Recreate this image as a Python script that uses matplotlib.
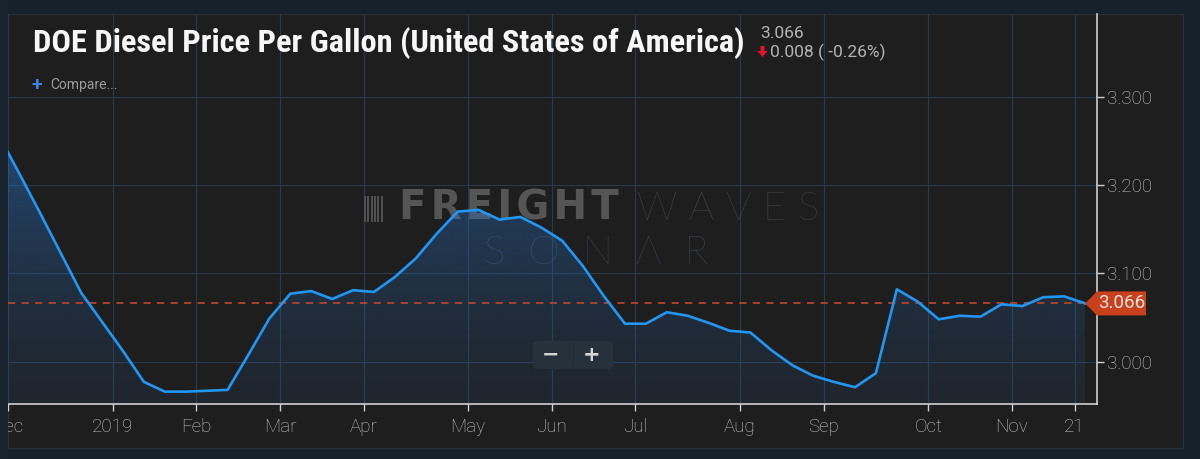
import numpy as np
import pandas as pd
import matplotlib
matplotlib.use("Agg")
import matplotlib.pyplot as plt
from matplotlib.patches import Rectangle, Polygon, FancyBboxPatch
from matplotlib.transforms import IdentityTransform
from matplotlib.colors import to_rgb

# weekly DOE diesel price (USD / gallon)
prices = [
    3.259, 3.215, 3.170, 3.124, 3.078, 3.045, 3.012, 2.977, 2.966, 2.966,
    2.967, 2.968, 3.008, 3.049, 3.077, 3.080, 3.071, 3.081, 3.079, 3.096,
    3.117, 3.145, 3.170, 3.172, 3.161, 3.164, 3.152, 3.137, 3.108, 3.074,
    3.043, 3.043, 3.056, 3.052, 3.044, 3.035, 3.033, 3.013, 2.996, 2.984,
    2.977, 2.971, 2.987, 3.082, 3.068, 3.048, 3.052, 3.051, 3.065, 3.063,
    3.073, 3.074, 3.066,
]
last_week = "2019-11-25"

tick_dates = [
    "2018-12-01", "2019-01-01", "2019-02-01", "2019-03-01", "2019-04-01",
    "2019-05-01", "2019-06-01", "2019-07-01", "2019-08-01", "2019-09-01",
    "2019-10-01", "2019-11-01", "2019-11-21",
]
tick_labels = ["Dec", "2019", "Feb", "Mar", "Apr", "May", "Jun", "Jul",
               "Aug", "Sep", "Oct", "Nov", "21"]
y_ticks = [3.0, 3.1, 3.2, 3.3]
y_range = (2.952, 3.394)

title = "DOE Diesel Price Per Gallon (United States of America)"
last_label = "3.066"
change_label = "0.008 ( -0.26%)"

W, H = 1200, 459
NAVY = "#16212c"
PANEL = "#1e1e1e"
LINE = "#2196f3"
AXIS = "#cfcfcf"
TXT = "#c4c4c4"
SANS = ["Roboto", "DejaVu Sans"]
THIN = "\u200a"


def fx(px):
    return px / W


def fy(py):
    return 1 - py / H


fig = plt.figure(figsize=(W / 100, H / 100), dpi=100, facecolor=NAVY)
fig.patches.append(Rectangle((fx(8), fy(448)), fx(1183) - fx(8), fy(14) - fy(448),
                             transform=fig.transFigure, fc=PANEL, ec="#26313b",
                             lw=0.8, zorder=-1))

ax = fig.add_axes([fx(8), fy(404), fx(1097) - fx(8), fy(14) - fy(404)])
ax.set_facecolor("none")

x = np.arange(len(prices))
dates = pd.date_range(end=last_week, periods=len(prices), freq="W-MON")
tick_pos = np.searchsorted(dates.values, pd.to_datetime(tick_dates).values) - 0.5

x0, x1 = tick_pos[0], x[-1] + 0.57
ax.set_xlim(x0, x1)
ax.set_ylim(*y_range)

# area under the curve with a vertical gradient
poly = ax.fill_between(x, prices, y_range[0], color="none", lw=0)
g = np.linspace(0, 1, 256)[:, None]
rgba = np.zeros((256, 1, 4))
rgba[..., :3] = to_rgb("#2a72c8")
rgba[..., 3] = 0.1 + 0.7 * g ** 1.5
im = ax.imshow(rgba, extent=[x0, x1, y_range[0], y_range[1]], origin="lower",
               aspect="auto", zorder=2, interpolation="bilinear")
im.set_clip_path(poly.get_paths()[0], transform=ax.transData)
ax.set_xlim(x0, x1)
ax.set_ylim(*y_range)

ax.plot(x, prices, color=LINE, lw=1.9, zorder=4, solid_joinstyle="round")
ax.plot([x0, x[-1]], [prices[-1], prices[-1]], ls=(0, (4, 3.5)), color="#b4452c",
        lw=1.3, zorder=3)

# axes styling
ax.set_xticks(tick_pos)
ax.set_xticklabels(tick_labels)
ax.set_yticks(y_ticks)
ax.set_yticklabels([f"{v:.3f}" for v in y_ticks])
ax.yaxis.tick_right()
ax.grid(True, color="#2b3a4a", lw=0.8)
ax.set_axisbelow(True)
for s in ["top", "left"]:
    ax.spines[s].set_visible(False)
for s in ["bottom", "right"]:
    ax.spines[s].set_color(AXIS)
    ax.spines[s].set_linewidth(1.2)
ax.tick_params(axis="both", colors=AXIS, length=5, width=1, labelcolor=TXT,
               labelsize=13.5)
ax.tick_params(axis="x", pad=5)
ax.tick_params(axis="y", pad=2)
for lab in ax.get_xticklabels() + ax.get_yticklabels():
    lab.set_family(SANS)
    lab.set_weight("light")

# watermark
wm = dict(transform=fig.transFigure, va="center", zorder=1)
ax.text(fx(399), fy(209), THIN.join("FREIGHT"), color="#555555", fontsize=29,
        weight="heavy", family=["DejaVu Sans"], **wm)
ax.text(fx(637), fy(209), " ".join("WAVES"), color="#4c4c4c", fontsize=29,
        weight="light", family=["Lato", "DejaVu Sans"], **wm)
ax.text(fx(596), fy(253), "S  O  N  \u039b  R", color="#47505a", fontsize=29,
        weight="light", family=["Lato", "DejaVu Sans"], ha="center", **wm)
for i in range(6):
    ax.add_patch(Rectangle((fx(364 + i * 3.3), fy(222)), fx(2), fy(196) - fy(222),
                           transform=fig.transFigure, fc="#505050", ec="none",
                           zorder=1))

# zoom buttons
fig.patches.append(FancyBboxPatch((533, H - 369), 80, 28,
                                  boxstyle="round,pad=0,rounding_size=4",
                                  transform=IdentityTransform(), fc="#26313c",
                                  ec="none", zorder=3))
fig.patches.append(Rectangle((572.5, H - 367), 1, 24, transform=IdentityTransform(),
                             fc="#1f2933", ec="none", zorder=3.5))
fig.text(fx(551), fy(355), "\u2212", color="#d4d4d4", fontsize=15, weight="bold",
         ha="center", va="center", zorder=4)
fig.text(fx(592), fy(355), "+", color="#d4d4d4", fontsize=15, weight="bold",
         ha="center", va="center", zorder=4)

# last value tag
tip = ax.transData.transform((x[-1], prices[-1]))
ty = tip[1]
tag = Polygon([(tip[0], ty), (1097, ty + 12), (1146, ty + 12), (1146, ty - 12),
               (1097, ty - 12)], closed=True, transform=IdentityTransform(),
              fc="#c8401c", ec="none", zorder=6)
fig.patches.append(tag)
fig.text(fx(1121.5), ty / H, last_label, color="#f3e2dc", fontsize=13.5,
         family=SANS, ha="center", va="center", zorder=7)

# cover the part of the first tick label that falls outside the panel
fig.patches.append(Rectangle((0, 0), fx(8), 1, transform=fig.transFigure,
                             fc="#18232e", ec="none", zorder=5))

# header texts
t = fig.text(fx(33), fy(43), title, color="#f7f7f7", fontsize=24, weight="bold",
             family=["Roboto Condensed", "Liberation Sans Narrow", "DejaVu Sans"],
             va="center", ha="left")
r = fig.canvas.get_renderer()
w = t.get_window_extent(renderer=r).width
t.set_fontsize(24 * 714 / w)

fig.text(fx(760), fy(33), last_label, color="#b3b3b3", fontsize=12.5, family=SANS,
         va="center")
arrow = [(760.5, 46), (764.5, 46), (764.5, 51), (767.5, 51), (762.5, 57),
         (757.5, 51), (760.5, 51)]
fig.patches.append(Polygon([(px, H - py) for px, py in arrow], closed=True,
                           transform=IdentityTransform(), fc="#e8102e", ec="none"))
fig.text(fx(770), fy(52), change_label, color="#b3b3b3", fontsize=12.5, family=SANS,
         va="center")
fig.text(fx(32), fy(85), "+", color="#3f7fe0", fontsize=14, weight="bold",
         family=SANS, va="center")
fig.text(fx(50), fy(85.5), "Compare...", color="#9c9c9c", fontsize=10,
         family=SANS, va="center")

fig.savefig("out.png", dpi=100, facecolor=NAVY)
